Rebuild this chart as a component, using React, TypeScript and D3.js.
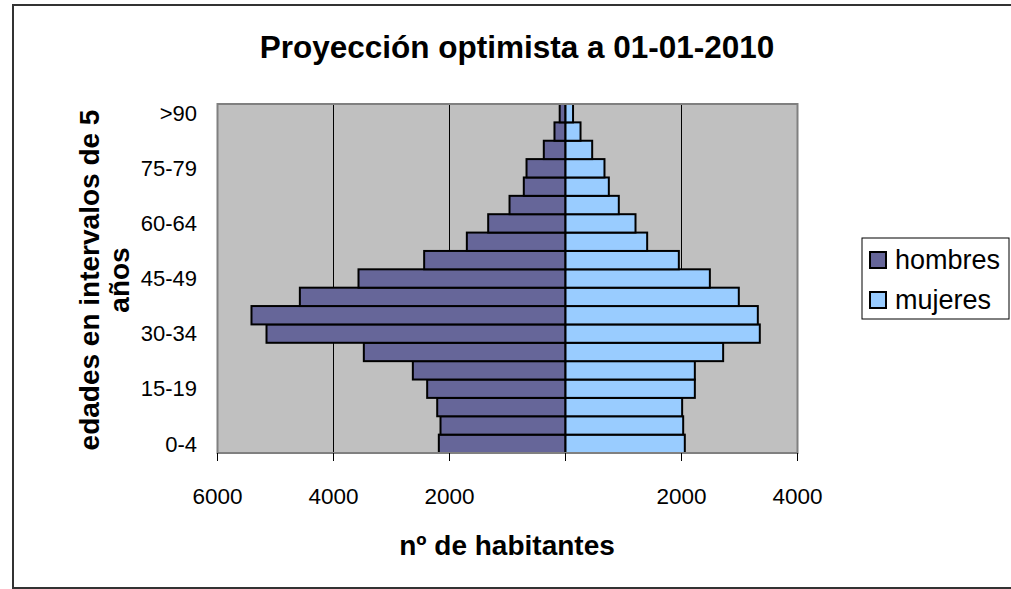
import React from "react";
import * as d3 from "d3";

const categories = ["0-4","5-9","10-14","15-19","20-24","25-29","30-34","35-39","40-44","45-49","50-54","55-59","60-64","65-69","70-74","75-79","80-84","85-89",">90"];
const hombres = [2184,2155,2212,2385,2632,3477,5155,5414,4580,3569,2437,1701,1333,965,719,672,374,190,100];
const mujeres = [2057,2029,2011,2230,2230,2718,3350,3316,2988,2489,1954,1408,1207,919,747,672,460,259,130];
const xTicks = [-6000,-4000,-2000,0,2000,4000];
const gridValues = [-4000,-2000,2000];
const shownLabels = ["0-4","15-19","30-34","45-49","60-64","75-79",">90"];
const title = "Proyección optimista a 01-01-2010";
const xTitle = "nº de habitantes";
const yTitle1 = "edades en intervalos de 5";
const yTitle2 = "años";
const seriesNames = ["hombres","mujeres"];
const colors = ["#666699","#99CCFF"];

const FONT = "'Liberation Sans', Arial, sans-serif";

export default function App() {
  const W = 1011, H = 589;
  const plot = { left: 217.5, right: 797.5, top: 104, bottom: 453 };
  const x = d3.scaleLinear().domain([-6000, 4000]).range([plot.left, plot.right]);
  const y = d3.scaleBand<string>().domain([...categories].reverse()).range([plot.top, plot.bottom]).paddingInner(0);
  const x0 = x(0);
  const bh = y.bandwidth();
  const fmt = (v: number) => (v === 0 ? "" : String(Math.abs(v)));

  return (
    <svg width={W} height={H} style={{ position: "fixed", left: 0, top: 0, background: "#fff" }} fontFamily={FONT}>
      <rect x={13} y={5} width={1100} height={583} fill="#fff" stroke="#333" strokeWidth={2} />
      <text x={517} y={58} textAnchor="middle" fontSize={31.5} fontWeight="bold">{title}</text>
      <rect x={plot.left} y={plot.top} width={plot.right - plot.left} height={plot.bottom - plot.top} fill="#C0C0C0" />
      {gridValues.map((v) => (
        <line key={v} x1={x(v)} x2={x(v)} y1={plot.top} y2={plot.bottom} stroke="#000" strokeWidth={1} />
      ))}
      {categories.map((c, i) => (
        <g key={c}>
          <rect x={x(-hombres[i])} y={y(c)!} width={x0 - x(-hombres[i])} height={bh} fill={colors[0]} stroke="#000" strokeWidth={2} />
          <rect x={x0} y={y(c)!} width={x(mujeres[i]) - x0} height={bh} fill={colors[1]} stroke="#000" strokeWidth={2} />
        </g>
      ))}
      <rect x={plot.left} y={plot.top} width={plot.right - plot.left} height={plot.bottom - plot.top} fill="none" stroke="#808080" strokeWidth={2} />
      {xTicks.map((v) => (
        <g key={v}>
          <line x1={x(v)} x2={x(v)} y1={plot.bottom} y2={plot.bottom + 8} stroke="#000" strokeWidth={1} />
          <text x={x(v)} y={504} textAnchor="middle" fontSize={22.5}>{fmt(v)}</text>
        </g>
      ))}
      {shownLabels.map((c) => (
        <text key={c} x={197} y={y(c)! + bh / 2} dy="0.35em" textAnchor="end" fontSize={22}>{c}</text>
      ))}
      <text transform={`translate(99, 280) rotate(-90)`} textAnchor="middle" fontSize={28} fontWeight="bold">{yTitle1}</text>
      <text transform={`translate(129, 280) rotate(-90)`} textAnchor="middle" fontSize={28} fontWeight="bold">{yTitle2}</text>
      <text x={507} y={555} textAnchor="middle" fontSize={28} fontWeight="bold">{xTitle}</text>
      <rect x={862} y={238} width={147} height={81} fill="#fff" stroke="#000" strokeWidth={1} />
      {seriesNames.map((s, i) => (
        <g key={s}>
          <rect x={870} y={252 + i * 40} width={16} height={16} fill={colors[i]} stroke="#000" strokeWidth={2} />
          <text x={895} y={269 + i * 40} fontSize={27}>{s}</text>
        </g>
      ))}
    </svg>
  );
}
